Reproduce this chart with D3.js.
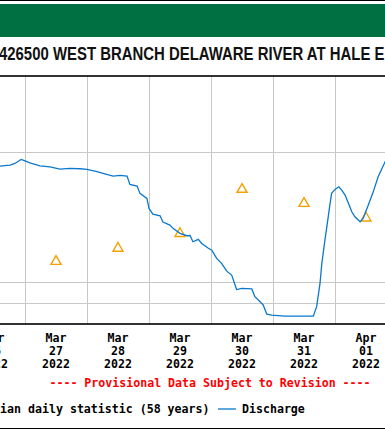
<!DOCTYPE html>
<html lang="en">
<head>
  <meta charset="utf-8">
  <title>West Branch Delaware River at Hale Eddy</title>
  <style>
    body { margin: 0; background: #fff; }
    svg { display: block; }
    .mono { font-family: "DejaVu Sans Mono", monospace; font-weight: bold; font-size: 11.6px; }
  </style>
</head>
<body>
  <div id="chart"></div>

  <script src="https://d3js.org/d3.v7.min.js"></script>
  <script>
// discharge, hours after 2022-03-26 00:00 and cubic feet per second
const flowHours = [10, 14.3, 18.2, 20.1, 22.5, 24, 25.9, 29.8, 33.7, 37.5, 41.4, 45.3, 48, 51.9, 54.2, 58.1,
  60.8, 63.5, 64.6, 67.4, 68.5, 71.2, 72, 73.5, 76.3, 77.4, 80.1, 81.3, 84, 86.7, 87.9,
  89, 91.1, 92.4, 95, 96.3, 98.2, 100.1, 102.1, 104, 105.9, 107.9, 111.8, 113, 115, 116.2,
  117.6, 119.5, 124.6, 135.6, 136.9, 138.2, 138.9, 140.1, 141.2, 142.1, 142.7, 144, 145.5, 146.6, 147.9,
  149.2, 150.5, 151.7, 153.7, 154.9, 156.9, 158.8, 160.7, 163.4, 166];
const flowValues = [1715, 1722, 1742, 1772, 1850, 1822, 1784, 1728, 1710, 1668, 1680, 1674, 1664, 1622, 1594, 1548,
  1560, 1548, 1418, 1393, 1288, 1221, 1097, 1033, 1014, 949, 918, 887, 841, 820, 822,
  769, 789, 755, 717, 703, 644, 611, 562, 539, 462, 468, 465, 428, 406, 392,
  355, 352, 348, 348, 385, 493, 611, 783, 969, 1158, 1288, 1344, 1382, 1334, 1264,
  1158, 1059, 1003, 951, 987, 1138, 1309, 1538, 1805, 2086];

// median daily statistic (58 years), plotted at noon
const medianDays = ["2022-03-27", "2022-03-28", "2022-03-29", "2022-03-30", "2022-03-31", "2022-04-01"];
const medianValues = [623, 717, 839, 1344, 1156, 990];

const dayTicks = ["2022-03-26", "2022-03-27", "2022-03-28", "2022-03-29", "2022-03-30", "2022-03-31", "2022-04-01", "2022-04-02"];
const yTicks = [400, 500, 2000];

const title = "01426500 WEST BRANCH DELAWARE RIVER AT HALE EDDY NY";
const provisional = "---- Provisional Data Subject to Revision ----";

const W = 385, H = 430;
const parse = d3.utcParse("%Y-%m-%d");
const t0 = parse("2022-03-26");

const plot = { left: -37, right: 397, top: 76, bottom: 324 };

const x = d3.scaleUtc()
  .domain([t0, parse("2022-04-02")])
  .range([plot.left, plot.right]);
const y = d3.scaleLog()
  .domain([320, 4500])
  .range([plot.bottom, plot.top]);

const svg = d3.select("#chart").append("svg")
  .attr("width", W).attr("height", H);

// frame + green banner
svg.append("line").attr("x1", 0).attr("x2", W).attr("y1", 0.5).attr("y2", 0.5)
  .attr("stroke", "#000");
svg.append("rect").attr("x", 0).attr("y", 4).attr("width", W).attr("height", 33)
  .attr("fill", "#006f41");
svg.append("line").attr("x1", 0).attr("x2", W).attr("y1", 428.5).attr("y2", 428.5)
  .attr("stroke", "#000");

// title, squeezed to match the narrow bold face
const tt = svg.append("text")
  .attr("font-family", "Liberation Sans, Arial, sans-serif")
  .attr("font-weight", "bold")
  .attr("font-size", 17.5)
  .attr("fill", "#111")
  .text(title);
const node = tt.node();
const s = 376 / node.getSubStringLength(2, 42);
const pre = node.getSubStringLength(0, 2) * s;
tt.attr("transform", `translate(${-1 - pre},59.5) scale(${s},1)`);

// grid
const g = svg.append("g");
g.selectAll(".vg").data(dayTicks.map(parse)).enter().append("line")
  .attr("x1", d => Math.round(x(d)) + 0.5).attr("x2", d => Math.round(x(d)) + 0.5)
  .attr("y1", plot.top).attr("y2", plot.bottom)
  .attr("stroke", "#c8c8c8");
g.selectAll(".hg").data(yTicks).enter().append("line")
  .attr("x1", plot.left).attr("x2", plot.right)
  .attr("y1", d => Math.round(y(d)) + 0.5).attr("y2", d => Math.round(y(d)) + 0.5)
  .attr("stroke", "#c8c8c8");

// median triangles
const tri = d3.symbol(d3.symbolTriangle).size(44);
svg.selectAll(".med").data(medianDays).enter().append("path")
  .attr("d", tri)
  .attr("transform", (d, i) => `translate(${x(d3.utcHour.offset(parse(d), 12))},${y(medianValues[i])})`)
  .attr("fill", "none")
  .attr("stroke", "#f5a000")
  .attr("stroke-width", 1.4);

// discharge
const line = d3.line()
  .x(d => x(d3.utcMinute.offset(t0, Math.round(d[0] * 60))))
  .y(d => y(d[1]));
svg.append("path")
  .datum(flowHours.map((h, i) => [h, flowValues[i]]))
  .attr("d", line)
  .attr("fill", "none")
  .attr("stroke", "#0a78cc")
  .attr("stroke-width", 1.3);

// plot border
svg.append("rect")
  .attr("x", plot.left).attr("y", plot.top)
  .attr("width", plot.right - plot.left).attr("height", plot.bottom - plot.top)
  .attr("fill", "none").attr("stroke", "#000").attr("stroke-width", 1.6);

// day labels at noon
const fmtMon = d3.utcFormat("%b"), fmtDay = d3.utcFormat("%d"), fmtYr = d3.utcFormat("%Y");
const lab = svg.selectAll(".lab").data(dayTicks.slice(0, 7).map(parse)).enter().append("text")
  .attr("class", "mono")
  .attr("text-anchor", "middle")
  .attr("fill", "#000");
[[fmtMon, 341.5], [fmtDay, 355], [fmtYr, 368.3]].forEach(([f, yy]) => {
  lab.append("tspan")
    .attr("x", d => x(d3.utcHour.offset(d, 12)))
    .attr("y", yy)
    .text(d => f(d));
});

svg.append("text").attr("class", "mono")
  .attr("x", 210).attr("y", 386.7)
  .attr("text-anchor", "middle")
  .attr("fill", "#ff0000")
  .text(provisional);

// legend
svg.append("text").attr("class", "mono")
  .attr("x", 209.5).attr("y", 412.7).attr("text-anchor", "end")
  .text("Median daily statistic (58 years)");
svg.append("path").attr("d", tri)
  .attr("transform", `translate(-34,409)`)
  .attr("fill", "none").attr("stroke", "#f5a000").attr("stroke-width", 1.4);
svg.append("line").attr("x1", 218).attr("x2", 236).attr("y1", 409).attr("y2", 409)
  .attr("stroke", "#0a78cc").attr("stroke-width", 1.3);
svg.append("text").attr("class", "mono")
  .attr("x", 242).attr("y", 412.7)
  .text("Discharge");
  </script>
</body>
</html>
